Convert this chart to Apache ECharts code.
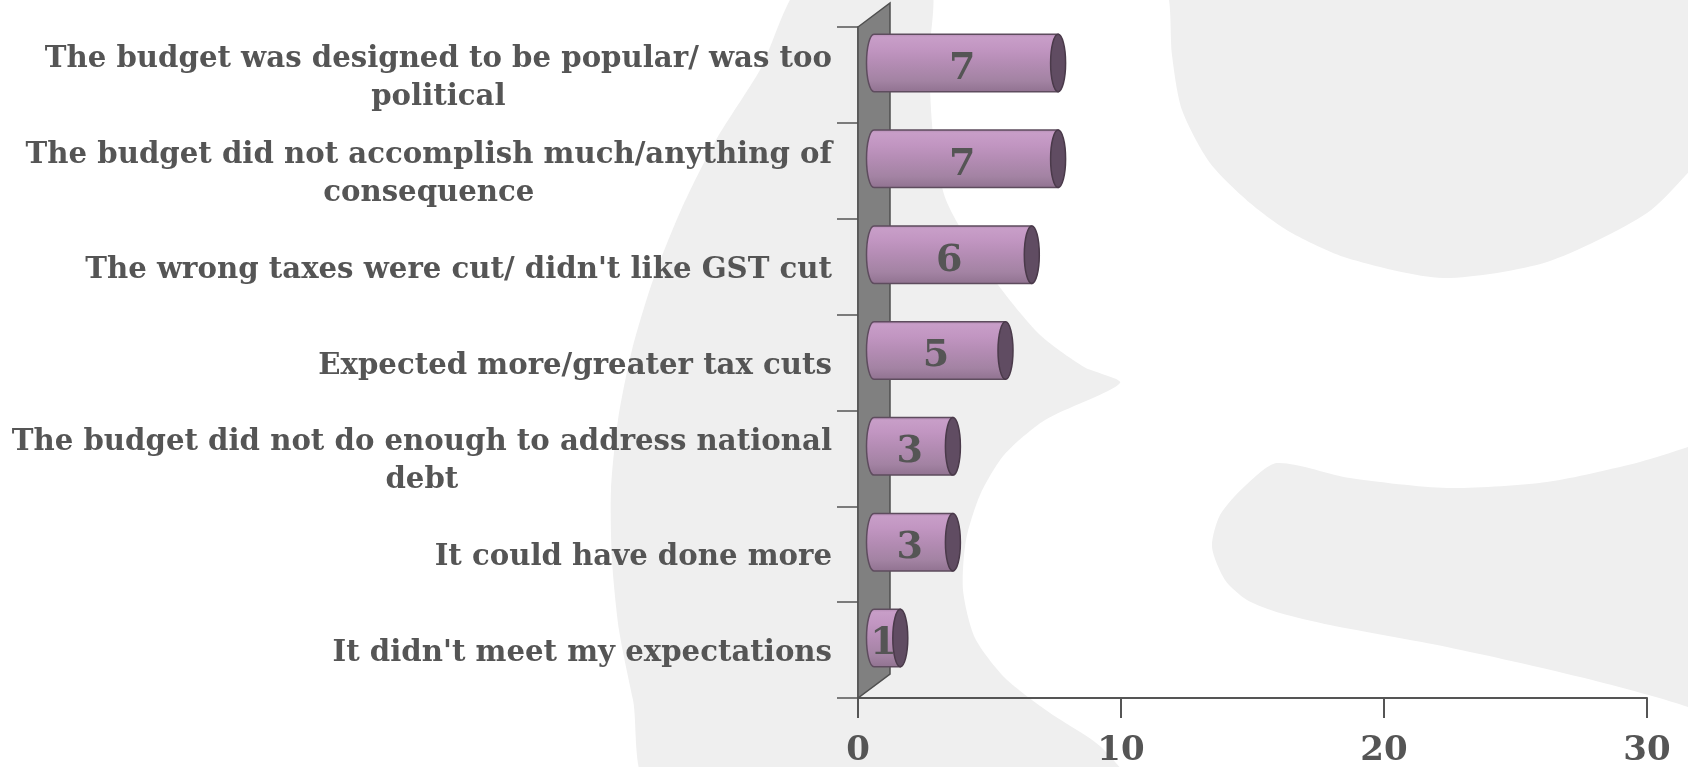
<!DOCTYPE html>
<html>
<head>
<meta charset="utf-8">
<script src="https://cdn.jsdelivr.net/npm/echarts@6/dist/echarts.min.js"></script>
<style>
  html, body { margin: 0; padding: 0; background: #ffffff; }
  #chart { width: 1688px; height: 767px; }
</style>
</head>
<body>
<div id="chart"></div>
<script>
// Reasons given for disliking the budget (number of mentions)
const categories = [
  'The budget was designed to be popular/ was too political',
  'The budget did not accomplish much/anything of consequence',
  "The wrong taxes were cut/ didn't like GST cut",
  'Expected more/greater tax cuts',
  'The budget did not do enough to address national debt',
  'It could have done more',
  "It didn't meet my expectations"
];
const counts = [7, 7, 6, 5, 3, 3, 1];
const axisMin = 0;
const axisMax = 30;
const axisStep = 10;

// ---- styling ----
const TEXT = '#555555';
const FONT = '"DejaVu Serif", serif';
const LABEL_SIZE = 29.2;
const LINE_H = 38;
const WRAP_W = 845;
const DEPTH_X = 32;   // 3D depth offset of the side wall
const DEPTH_Y = 24;
const BG_GREY = '#efefef';

// wrap a category name into lines no wider than WRAP_W
const measureCtx = document.createElement('canvas').getContext('2d');
measureCtx.font = 'bold ' + LABEL_SIZE + 'px ' + FONT;
function wrapLines(text) {
  const words = text.split(' ');
  const lines = [];
  let cur = '';
  words.forEach(w => {
    const tryLine = cur ? cur + ' ' + w : w;
    if (cur && measureCtx.measureText(tryLine).width > WRAP_W) {
      lines.push(cur);
      cur = w;
    } else {
      cur = tryLine;
    }
  });
  if (cur) lines.push(cur);
  return lines;
}

// side wall of the 3D plot
function renderWall(params, api) {
  const cs = params.coordSys;
  const x0 = cs.x, top = cs.y, bottom = cs.y + cs.height;
  return {
    type: 'polygon',
    shape: { points: [[x0, top], [x0 + DEPTH_X, top - DEPTH_Y], [x0 + DEPTH_X, bottom - DEPTH_Y], [x0, bottom]] },
    style: { fill: '#808080', stroke: '#4f4f4f', lineWidth: 1.5 }
  };
}

// cylinder-style horizontal bar with an end cap and value label
function renderBar(params, api) {
  const v = api.value(0);
  const ci = api.value(1);
  const base = api.coord([0, ci]);
  const end = api.coord([v, ci]);
  const band = api.size([0, 1])[1];
  const h = band * 0.6;
  const cy = base[1] - DEPTH_Y / 2;
  const xs = base[0] + DEPTH_X / 2;
  const xe = end[0] + DEPTH_X / 2;
  const rx = 7.5, ry = h / 2;
  const top = cy - ry, bot = cy + ry;
  const body = {
    type: 'path',
    shape: {
      pathData: 'M' + xs + ',' + top + ' L' + xe + ',' + top + ' L' + xe + ',' + bot +
        ' L' + xs + ',' + bot + ' A' + rx + ',' + ry + ' 0 0 1 ' + xs + ',' + top + ' Z'
    },
    style: {
      fill: {
        type: 'linear', x: 0, y: 0, x2: 0, y2: 1,
        colorStops: [
          { offset: 0, color: '#b088b0' },
          { offset: 0.06, color: '#c89ec8' },
          { offset: 0.25, color: '#c296c2' },
          { offset: 0.5, color: '#b48cb4' },
          { offset: 0.8, color: '#a383a3' },
          { offset: 1, color: '#907290' }
        ]
      },
      stroke: '#5e4c5e',
      lineWidth: 1.5
    }
  };
  const cap = {
    type: 'ellipse',
    shape: { cx: xe, cy: cy, rx: rx, ry: ry },
    style: { fill: '#604c62', stroke: '#4a3a4a', lineWidth: 1.5 }
  };
  const label = {
    type: 'text',
    style: {
      text: String(v),
      x: (xs - rx + xe) / 2,
      y: cy + 6,
      align: 'center', textAlign: 'center',
      verticalAlign: 'middle', textVerticalAlign: 'middle',
      fontFamily: FONT, fontWeight: 'bold', fontSize: 38,
      fill: TEXT
    }
  };
  return { type: 'group', children: [body, cap, label] };
}

// pale backdrop shapes
const bgLeft = [[806,-20],[760,70],[716,140],[681,210],[653,280],[632,350],[618,420],[611,490],[612,560],
  [619,630],[633,700],[652,790],[1130,790],[1101,747],[1050,713],[1005,678],[975,638],[963,590],[966,540],
  [980,495],[1004,455],[1045,420],[1120,383],[1084,367],[1038,333],[985,267],[946,200],[933,133],[929,60],[928,-20]];
const bgTopRight = [[1160,-20],[1169,0],[1172,55],[1182,110],[1210,163],[1250,203],[1290,232],[1347,258],
  [1443,278],[1547,262],[1647,213],[1700,160],[1760,100],[1760,-20]];
const bgBottomRight = [[1277,463],[1350,478],[1447,488],[1547,482],[1640,462],[1700,443],[1760,420],[1760,740],
  [1688,707],[1580,677],[1447,647],[1330,625],[1280,613],[1247,600],[1225,580],[1212,547],[1220,515],[1245,486]];

const chart = echarts.init(document.getElementById('chart'), null, { renderer: 'canvas' });

chart.setOption({
  backgroundColor: '#ffffff',
  animation: false,
  graphic: {
    elements: [bgLeft, bgTopRight, bgBottomRight].map(pts => ({
      type: 'polygon',
      z: -10,
      silent: true,
      shape: { points: pts, smooth: 0.25 },
      style: { fill: BG_GREY }
    }))
  },
  grid: { left: 858, right: 41, top: 27, bottom: 69, containLabel: false, outerBoundsMode: 'none' },
  xAxis: {
    type: 'value',
    min: axisMin,
    max: axisMax,
    interval: axisStep,
    axisLine: { show: true, lineStyle: { color: TEXT, width: 2 } },
    axisTick: { show: true, length: 20, lineStyle: { color: TEXT, width: 2 } },
    splitLine: { show: false },
    axisLabel: {
      margin: 36,
      color: TEXT,
      fontFamily: FONT,
      fontWeight: 'bold',
      fontSize: 34
    }
  },
  yAxis: {
    type: 'category',
    inverse: true,
    data: categories,
    axisLine: { show: true, lineStyle: { color: TEXT, width: 1.5 } },
    axisTick: { show: true, length: 21, alignWithLabel: false, lineStyle: { color: TEXT, width: 1.5 } },
    splitLine: { show: false },
    axisLabel: {
      margin: 26,
      interval: 0,
      padding: [7, 0, 0, 0],
      formatter: val => wrapLines(val).map(l => '{c|' + l + '}').join('\n'),
      rich: {
        c: {
          fontFamily: FONT,
          fontWeight: 'bold',
          fontSize: LABEL_SIZE,
          lineHeight: LINE_H,
          color: TEXT,
          align: 'center'
        }
      }
    }
  },
  series: [
    {
      type: 'custom',
      z: 2,
      silent: true,
      clip: false,
      renderItem: renderWall,
      data: [[0, 0]],
      encode: { x: 0, y: 1 }
    },
    {
      type: 'custom',
      z: 3,
      clip: false,
      renderItem: renderBar,
      data: counts.map((v, i) => [v, i]),
      encode: { x: 0, y: 1 }
    }
  ]
});
</script>
</body>
</html>
